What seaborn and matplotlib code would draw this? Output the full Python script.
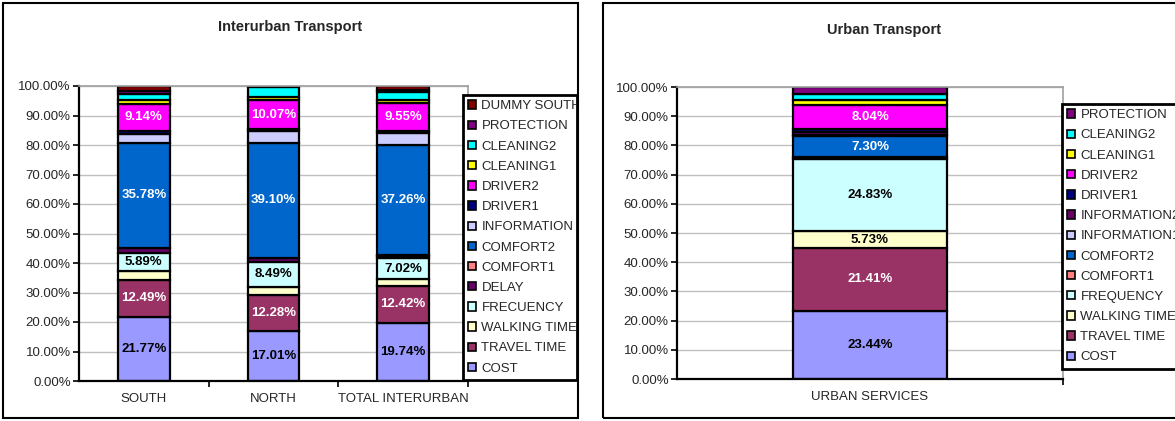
#! /usr/bin/env python3

import numpy as np
import pandas as pd
import seaborn as sns
import matplotlib.pyplot as plt
from matplotlib.patches import Patch, Rectangle
from matplotlib.ticker import FuncFormatter, FixedLocator

# ---- data (percent shares, stacked bottom -> top) ----
inter_groups = ["SOUTH", "NORTH", "TOTAL INTERURBAN"]
inter_items = ["COST", "TRAVEL TIME", "WALKING TIME", "FRECUENCY", "DELAY",
               "COMFORT1", "COMFORT2", "INFORMATION", "DRIVER1", "DRIVER2",
               "CLEANING1", "CLEANING2", "PROTECTION", "DUMMY SOUTH"]
south = [21.77, 12.49, 3.10, 5.89, 1.80, 0.00, 35.78, 3.00, 1.00, 9.14,
         1.20, 2.00, 1.20, 1.63]
north = [17.01, 12.28, 2.70, 8.49, 1.20, 0.00, 39.10, 4.00, 0.50, 10.07,
         0.80, 3.40, 0.45, 0.00]
total_inter = [19.74, 12.42, 2.40, 7.02, 0.90, 0.20, 37.26, 4.00, 0.80, 9.55,
               0.80, 2.80, 0.80, 1.31]
inter_labeled = ["COST", "TRAVEL TIME", "FRECUENCY", "COMFORT2", "DRIVER2"]

urban_groups = ["URBAN SERVICES"]
urban_items = ["COST", "TRAVEL TIME", "WALKING TIME", "FREQUENCY", "COMFORT1",
               "COMFORT2", "INFORMATION1", "INFORMATION2", "DRIVER1", "DRIVER2",
               "CLEANING1", "CLEANING2", "PROTECTION"]
urban = [23.44, 21.41, 5.73, 24.83, 0.50, 7.30, 0.50, 0.80, 1.20, 8.04,
         1.80, 2.20, 2.25]
urban_labeled = ["COST", "TRAVEL TIME", "WALKING TIME", "FREQUENCY",
                 "COMFORT2", "DRIVER2"]

colors = {
    "COST": "#9999FF", "TRAVEL TIME": "#993366", "WALKING TIME": "#FFFFCC",
    "FRECUENCY": "#CCFFFF", "FREQUENCY": "#CCFFFF", "DELAY": "#660066",
    "COMFORT1": "#FF8080", "COMFORT2": "#0066CC", "INFORMATION": "#CCCCFF",
    "INFORMATION1": "#CCCCFF", "INFORMATION2": "#660066", "DRIVER1": "#000080",
    "DRIVER2": "#FF00FF", "CLEANING1": "#FFFF00", "CLEANING2": "#00FFFF",
    "PROTECTION": "#800080", "DUMMY SOUTH": "#800000",
}
white_text = ["TRAVEL TIME", "COMFORT2", "DRIVER2"]

W, H = 1175, 421
FS = 9.5

sns.set_theme(style="white")
plt.rcParams['font.family'] = ['Liberation Sans', 'DejaVu Sans']


def stacked(ax, groups, items, rows, labeled):
    df = pd.DataFrame(rows, index=groups, columns=items)
    bottom = np.zeros(len(groups))
    handles = []
    for item in items:
        vals = df[item].to_numpy()
        sns.barplot(x=groups, y=vals, order=groups, bottom=bottom, width=0.4,
                    color=colors[item], saturation=1, errorbar=None,
                    edgecolor="black", linewidth=1.6, ax=ax)
        if item in labeled:
            ax.bar_label(ax.containers[-1],
                         labels=[f"{v:.2f}%" for v in vals],
                         label_type="center", fontsize=FS, fontweight="bold",
                         color="white" if item in white_text else "black")
        bottom = bottom + vals
        handles.append(Patch(facecolor=colors[item], edgecolor="black",
                             linewidth=1.2, label=item))

    ax.set_ylim(0, 100)
    ax.set_xlim(-0.5, len(groups) - 0.5)
    ax.yaxis.set_major_locator(FixedLocator(np.arange(0, 101, 10)))
    ax.yaxis.set_major_formatter(FuncFormatter(lambda v, p: f"{v:.2f}%"))
    ax.yaxis.grid(True, color="#c0c0c0", linewidth=1)
    ax.set_axisbelow(True)
    ax.set(xlabel="", ylabel="")
    ax.xaxis.set_minor_locator(FixedLocator(np.arange(0.5, len(groups), 1)))
    ax.tick_params(axis="y", direction="out", length=4, width=1.2,
                   color="black", labelsize=FS, pad=2, left=True)
    ax.tick_params(axis="x", which="major", length=0, labelsize=FS, pad=9)
    ax.tick_params(axis="x", which="minor", direction="out", length=4,
                   width=1.2, color="black", bottom=True)
    for s in ["left", "bottom"]:
        ax.spines[s].set_color("black")
        ax.spines[s].set_linewidth(1.6)
    for s in ["top", "right"]:
        ax.spines[s].set_color("#a0a0a0")
        ax.spines[s].set_linewidth(1.2)
    return handles[::-1]


fig = plt.figure(figsize=(W / 100, H / 100), dpi=100)

ax1 = fig.add_axes([79 / W, 1 - 381 / H, (468 - 79) / W, (381 - 86) / H])
h1 = stacked(ax1, inter_groups, inter_items, [south, north, total_inter],
             inter_labeled)

ax2 = fig.add_axes([677 / W, 1 - 379 / H, (1063 - 677) / W, (379 - 87) / H])
h2 = stacked(ax2, urban_groups, urban_items, [urban], urban_labeled)

legs = []
for ax, h, x0, x1, y0 in [(ax1, h1, 463, 577, 95), (ax2, h2, 1062, 1190, 104)]:
    leg = ax.legend(handles=h, loc="upper left", mode="expand",
                    bbox_to_anchor=(x0 / W, 1 - y0 / H, (x1 - x0) / W, 0),
                    bbox_transform=fig.transFigure, frameon=True,
                    fancybox=False, edgecolor="black", framealpha=1,
                    fontsize=FS, handlelength=0.6, handleheight=0.6,
                    handletextpad=0.4, labelspacing=0.62, borderpad=0.4,
                    borderaxespad=0)
    leg.get_frame().set_linewidth(2.0)
    legs.append(leg)

fig.text(290 / W, 1 - 27 / H, "Interurban Transport", ha="center",
         va="center", fontsize=10.5, fontweight="bold")
fig.text(884 / W, 1 - 30 / H, "Urban Transport", ha="center",
         va="center", fontsize=10.5, fontweight="bold")

# chart area frames
fig.add_artist(Rectangle((3 / W, 1 - 418 / H), (578 - 3) / W, (418 - 3) / H,
                         transform=fig.transFigure, fill=False,
                         edgecolor="black", linewidth=1.5))
fig.add_artist(Rectangle((603 / W, 1 - 418 / H), (1185 - 603) / W,
                         (418 - 3) / H, transform=fig.transFigure,
                         fill=False, edgecolor="black", linewidth=1.5))

# legend text gets cut at the legend box like in the source
fig.canvas.draw()
for leg in legs:
    box = leg.get_frame().get_window_extent()
    for t in leg.get_texts():
        t.set_clip_box(box)
        t.set_clip_on(True)

fig.savefig("out.png", dpi=100)
